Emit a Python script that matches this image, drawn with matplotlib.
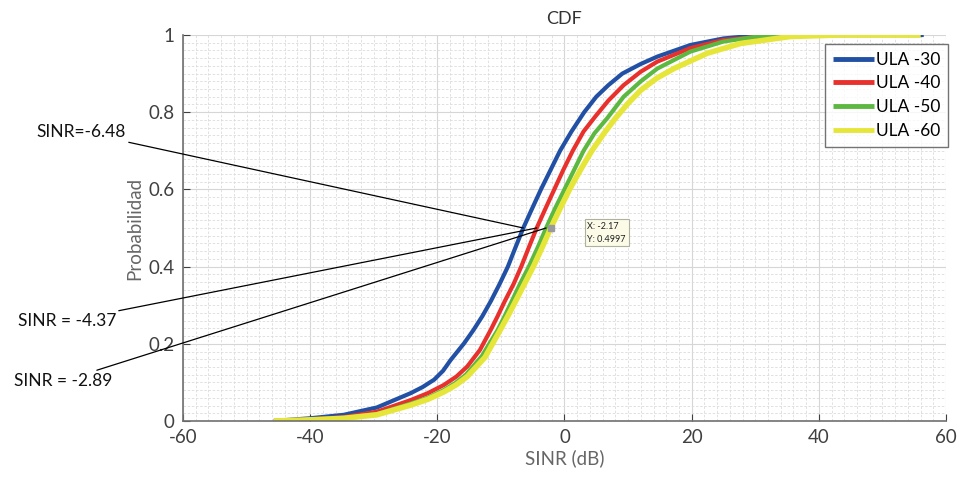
import numpy as np
import matplotlib.pyplot as plt
from matplotlib.ticker import MultipleLocator

plt.rcParams['font.family'] = ['Lato', 'DejaVu Sans']
plt.rcParams['axes.unicode_minus'] = False

# SINR (dB) points and CDF values
x_30 = [-45.7, -40, -34.7, -29.5, -24.2, -22.3, -20.5, -19.1, -17.9, -15.8, -14.3, -12.9, -11.6, -10.2,
        -8.9, -7.7, -6.48, -5.1, -3.7, -2.2, -0.7, 1.1, 3.1, 5.0, 6.9, 9.1, 12.0, 14.6, 19.8, 25.0,
        30.3, 40, 56.5]
p_30 = [0, 0.007, 0.016, 0.035, 0.072, 0.088, 0.107, 0.13, 0.158, 0.201, 0.236, 0.272, 0.31, 0.355,
        0.40, 0.45, 0.50, 0.55, 0.60, 0.65, 0.70, 0.75, 0.80, 0.84, 0.87, 0.90, 0.925, 0.944, 0.974, 0.991,
        0.999, 1.0, 1.0]

x_40 = [-45.7, -40, -34.7, -29.5, -24.2, -21.5, -19.0, -17.0, -15.3, -13.3, -11.6, -10.5, -9.4, -8.0,
        -6.8, -5.6, -4.37, -3.0, -1.6, -0.2, 1.3, 3.0, 4.9, 6.9, 9.3, 12.0, 14.6, 19.8, 25.0, 32.9,
        45, 56]
p_40 = [0, 0.004, 0.01, 0.024, 0.054, 0.072, 0.093, 0.115, 0.141, 0.184, 0.236, 0.272, 0.31, 0.355,
        0.40, 0.45, 0.50, 0.55, 0.60, 0.65, 0.70, 0.75, 0.79, 0.83, 0.87, 0.905, 0.931, 0.966, 0.987, 0.999,
        1.0, 1.0]

x_50 = [-45.7, -40, -34.7, -29.5, -24.2, -21.5, -19.0, -17.2, -15.5, -13.0, -10.5, -9.4, -8.3, -7.0,
        -5.6, -4.2, -2.89, -1.5, 0.0, 1.5, 3.0, 4.7, 6.7, 9.3, 12.0, 14.6, 19.8, 25.0, 30.3, 38.2, 56]
p_50 = [0, 0.003, 0.008, 0.018, 0.045, 0.06, 0.08, 0.098, 0.12, 0.168, 0.236, 0.272, 0.31, 0.355,
        0.40, 0.45, 0.50, 0.55, 0.60, 0.65, 0.70, 0.745, 0.784, 0.84, 0.88, 0.913, 0.957, 0.983, 0.996,
        1.0, 1.0]

x_60 = [-45.7, -40, -34.7, -29.5, -24.2, -21.5, -19.0, -17.0, -15.3, -12.5, -10.1, -8.9, -7.7, -6.3,
        -4.9, -3.5, -2.17, -0.7, 0.8, 2.5, 4.3, 6.2, 8.0, 10.0, 12.0, 14.5, 17.2, 22.5, 27.7, 35.5,
        43.4, 56]
p_60 = [0, 0.003, 0.007, 0.016, 0.041, 0.056, 0.075, 0.094, 0.115, 0.165, 0.236, 0.272, 0.31, 0.355,
        0.40, 0.45, 0.4997, 0.55, 0.60, 0.65, 0.70, 0.745, 0.784, 0.823, 0.857, 0.888, 0.913, 0.953, 0.978,
        0.996, 1.0, 1.0]

labels = ['ULA -30', 'ULA -40', 'ULA -50', 'ULA -60']
colors = ['#2250a4', '#e8302c', '#5cb840', '#e6e63a']

medians = [-6.48, -4.37, -2.89]
median_text = ['SINR=-6.48', 'SINR = -4.37', 'SINR = -2.89']
tip_x, tip_y = -2.17, 0.4997

fig = plt.figure(figsize=(9.57, 4.84), dpi=100)
ax = fig.add_axes([0.1912, 0.1302, 0.7973, 0.7975])

series = [(x_30, p_30), (x_40, p_40), (x_50, p_50), (x_60, p_60)]
widths = [3, 3, 3, 4]
for (xs, ps), lab, c, w in zip(series, labels, colors, widths):
    ax.plot(xs, ps, color=c, lw=w, label=lab, solid_capstyle='butt', solid_joinstyle='round')

ax.set_xlim(-60, 60)
ax.set_ylim(0, 1)
ax.xaxis.set_major_locator(MultipleLocator(20))
ax.xaxis.set_minor_locator(MultipleLocator(2))
ax.yaxis.set_minor_locator(MultipleLocator(0.02))
ax.set_yticks([0, 0.2, 0.4, 0.6, 0.8, 1])
ax.set_yticklabels(['0', '0.2', '0.4', '0.6', '0.8', '1'])
ax.grid(True, which='major', color='#d6d6d6', lw=0.8)
ax.grid(True, which='minor', color='#dcdcdc', lw=0.6, ls=(0, (3, 2)))
ax.set_axisbelow(True)

for s in ['top', 'right']:
    ax.spines[s].set_visible(False)
for s in ['left', 'bottom']:
    ax.spines[s].set_color('#707070')
    ax.spines[s].set_linewidth(1.2)
ax.tick_params(which='major', direction='in', length=5, color='#404040',
               labelsize=13.5, labelcolor='#404040', pad=6)
ax.tick_params(which='minor', length=0)

ax.set_title('CDF', fontsize=13, color='#333333', pad=8)
ax.set_xlabel('SINR (dB)', fontsize=13.5, color='#666666', labelpad=2)
ax.set_ylabel('Probabilidad', fontsize=13.5, color='#666666', labelpad=4)

leg = ax.legend(loc='upper right', bbox_to_anchor=(1.003, 0.977), fontsize=12.5,
                frameon=True, fancybox=False, handlelength=2.4, handletextpad=0.1,
                labelspacing=0.45, borderpad=0.45, borderaxespad=0)
leg.get_frame().set_edgecolor('#505050')
leg.get_frame().set_linewidth(1.0)
for h in leg.get_lines():
    h.set_linewidth(3.5)

# annotations pointing at the medians
text_pos = [(126, 484 - 132), (116, 484 - 321), (112, 484 - 381)]
for m, t, (tx, ty) in zip(medians, median_text, text_pos):
    ax.annotate(t, xy=(m, 0.5), xycoords='data', xytext=(tx, ty),
                textcoords='figure pixels', ha='right', va='center',
                fontsize=12.5, color='#111111', annotation_clip=False,
                arrowprops=dict(arrowstyle='-', color='black', lw=0.9,
                                shrinkA=0, shrinkB=0))

# data tip
ax.plot([tip_x], [tip_y], marker='s', ms=5, color='#9a9a9a', zorder=5)
ax.text(3.6, 0.515, 'X: -2.17\nY: 0.4997', fontsize=6.5, va='top', ha='left',
        color='#222222', linespacing=1.5,
        bbox=dict(boxstyle='square,pad=0.3', fc='#fbfbe8', ec='#b0b0a0', lw=0.8))

fig.savefig('out.png', dpi=100)
